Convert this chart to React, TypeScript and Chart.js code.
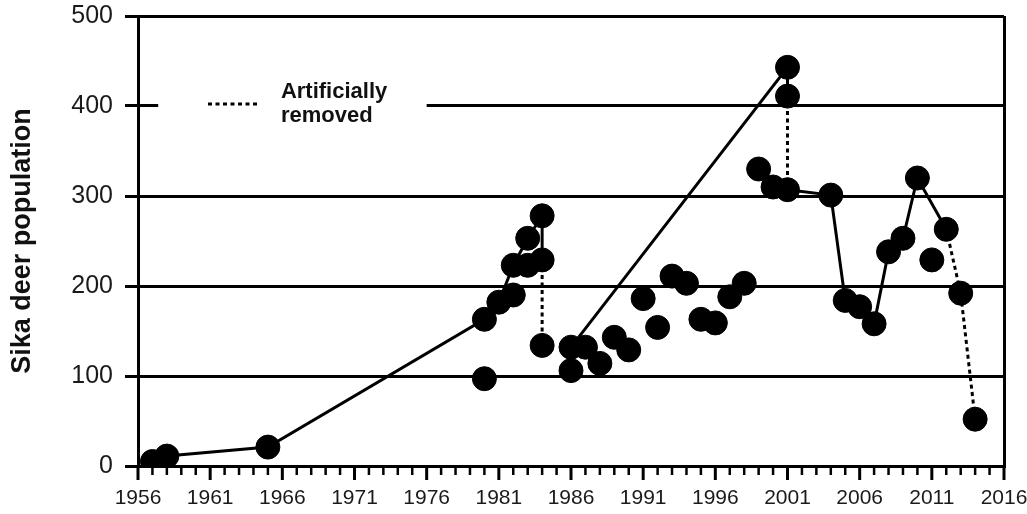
import React, { useEffect, useRef } from "react";
import { Chart, registerables } from "chart.js";

Chart.register(...registerables);

// All observed data points (year, population)
const pointYears = [
  1957, 1958, 1965, 1980, 1980, 1981, 1982, 1982, 1983, 1983, 1984, 1984, 1984,
  1986, 1986, 1987, 1988, 1989, 1990, 1991, 1992, 1993, 1994, 1995, 1996, 1997,
  1998, 1999, 2000, 2001, 2001, 2001, 2004, 2005, 2006, 2007, 2008, 2009, 2010,
  2011, 2012, 2013, 2014,
];
const pointValues = [
  5, 11, 21, 163, 97, 182, 190, 223, 223, 253, 278, 229, 134,
  132, 106, 132, 114, 143, 129, 186, 154, 211, 203, 163, 159, 188,
  203, 330, 310, 443, 411, 307, 301, 184, 177, 158, 238, 253, 320,
  229, 263, 192, 52,
];

// Solid connecting lines
const solid1Years = [1957, 1958, 1965, 1980, 1981, 1982, 1983, 1984, 1984];
const solid1Values = [5, 11, 21, 163, 182, 223, 253, 278, 229];
const solid2Years = [1986, 2001, 2001];
const solid2Values = [132, 443, 411];
const solid3Years = [2001, 2004, 2005, 2006, 2007, 2008, 2009, 2010, 2012];
const solid3Values = [307, 301, 184, 177, 158, 238, 253, 320, 263];

// Dotted lines (artificially removed)
const dotted1Years = [1984, 1984];
const dotted1Values = [229, 134];
const dotted2Years = [2001, 2001];
const dotted2Values = [411, 307];
const dotted3Years = [2012, 2013, 2014];
const dotted3Values = [263, 192, 52];

const yTicks = [0, 100, 200, 300, 400, 500];
const xMin = 1956;
const xMax = 2016;
const yTitle = "Sika deer population";
const legendLines = ["Artificially", "removed"];

const toXY = (xs: number[], ys: number[]) => xs.map((x, i) => ({ x, y: ys[i] }));

const lineDs = (xs: number[], ys: number[], dashed: boolean) => ({
  data: toXY(xs, ys),
  showLine: true,
  borderColor: "#000",
  backgroundColor: "#000",
  borderWidth: 3,
  borderDash: dashed ? [4, 3.5] : [],
  pointRadius: 0,
  order: 2,
});

const zeroPad = (s: any) => {
  s.paddingTop = 0;
  s.paddingBottom = 0;
  s.paddingLeft = 0;
  s.paddingRight = 0;
};

const decorPlugin = {
  id: "decor",
  afterDraw(chart: any) {
    const ctx = chart.ctx;
    const xs = chart.scales.x;
    const ys = chart.scales.y;
    const bottom = chart.chartArea.bottom;
    ctx.save();
    // minor / major x ticks
    ctx.strokeStyle = "#000";
    for (let yr = xMin; yr <= xMax; yr++) {
      const px = xs.getPixelForValue(yr);
      const major = (yr - xMin) % 5 === 0;
      ctx.lineWidth = major ? 3 : 2.5;
      ctx.beginPath();
      ctx.moveTo(px, bottom);
      ctx.lineTo(px, bottom + (major ? 14 : 9));
      ctx.stroke();
    }
    // legend box
    const ly = ys.getPixelForValue(400);
    const bx0 = xs.getPixelForValue(1957.4);
    const bx1 = xs.getPixelForValue(1976.0);
    ctx.fillStyle = "#fff";
    ctx.fillRect(bx0, ly - 22, bx1 - bx0, 44);
    ctx.setLineDash([4, 3.5]);
    ctx.lineWidth = 3;
    ctx.beginPath();
    ctx.moveTo(xs.getPixelForValue(1960.85), ly - 2);
    ctx.lineTo(xs.getPixelForValue(1964.4), ly - 2);
    ctx.stroke();
    ctx.setLineDash([]);
    ctx.fillStyle = "#111";
    ctx.font = "bold 22px 'Liberation Sans', Arial, sans-serif";
    ctx.textBaseline = "alphabetic";
    ctx.textAlign = "left";
    const tx = xs.getPixelForValue(1965.9);
    ctx.fillText(legendLines[0], tx, ly - 8);
    ctx.fillText(legendLines[1], tx, ly + 16);
    ctx.restore();
  },
};

export default function App() {
  const ref = useRef<HTMLCanvasElement>(null);
  useEffect(() => {
    const chart = new Chart(ref.current as HTMLCanvasElement, {
      type: "scatter",
      data: {
        datasets: [
          {
            data: toXY(pointYears, pointValues),
            showLine: false,
            pointRadius: 12,
            pointBorderWidth: 1,
            pointBackgroundColor: "#000",
            pointBorderColor: "#000",
            order: 1,
          } as any,
          lineDs(solid1Years, solid1Values, false),
          lineDs(solid2Years, solid2Values, false),
          lineDs(solid3Years, solid3Values, false),
          lineDs(dotted1Years, dotted1Values, true),
          lineDs(dotted2Years, dotted2Values, true),
          lineDs(dotted3Years, dotted3Values, true),
        ],
      },
      options: {
        responsive: false,
        animation: false,
        layout: { padding: { left: 0, right: 23, top: 16, bottom: 0 } },
        plugins: { legend: { display: false }, tooltip: { enabled: false } },
        scales: {
          x: {
            type: "linear",
            min: xMin,
            max: xMax,
            afterFit: (s: any) => {
              s.height = 48;
              zeroPad(s);
            },
            ticks: {
              stepSize: 1,
              autoSkip: false,
              maxRotation: 0,
              padding: 20,
              color: "#1a1a1a",
              font: { family: "'Liberation Sans Narrow', 'Liberation Sans', Arial, sans-serif", size: 21 },
              callback: (v: any) => ((Number(v) - xMin) % 5 === 0 ? String(v) : ""),
            },
            grid: {
              drawTicks: false,
              drawOnChartArea: true,
              lineWidth: 3,
              color: (c: any) => (c.tick && c.tick.value === xMax ? "#000" : "rgba(0,0,0,0)"),
            },
            border: { display: true, color: "#000", width: 3 },
          },
          y: {
            min: 0,
            max: 500,
            afterFit: (s: any) => {
              s.width = 138;
              zeroPad(s);
            },
            afterBuildTicks: (s: any) => {
              s.ticks = yTicks.map((v) => ({ value: v }));
            },
            ticks: {
              padding: 12,
              color: "#1a1a1a",
              font: { family: "'Liberation Sans', Arial, sans-serif", size: 25 },
            },
            grid: { color: "#000", lineWidth: 3, tickLength: 13, drawTicks: true },
            border: { display: true, color: "#000", width: 3 },
            title: {
              display: true,
              text: yTitle,
              color: "#111",
              font: { family: "'Liberation Sans', Arial, sans-serif", size: 27, weight: "bold" },
              padding: { top: 6, bottom: 0 },
            },
          },
        },
      } as any,
      plugins: [decorPlugin],
    });
    return () => chart.destroy();
  }, []);
  return (
    <div style={{ position: "fixed", left: 0, top: 0, width: 1027, height: 514, background: "#fff" }}>
      <canvas ref={ref} width={1027} height={514} style={{ display: "block" }} />
    </div>
  );
}
